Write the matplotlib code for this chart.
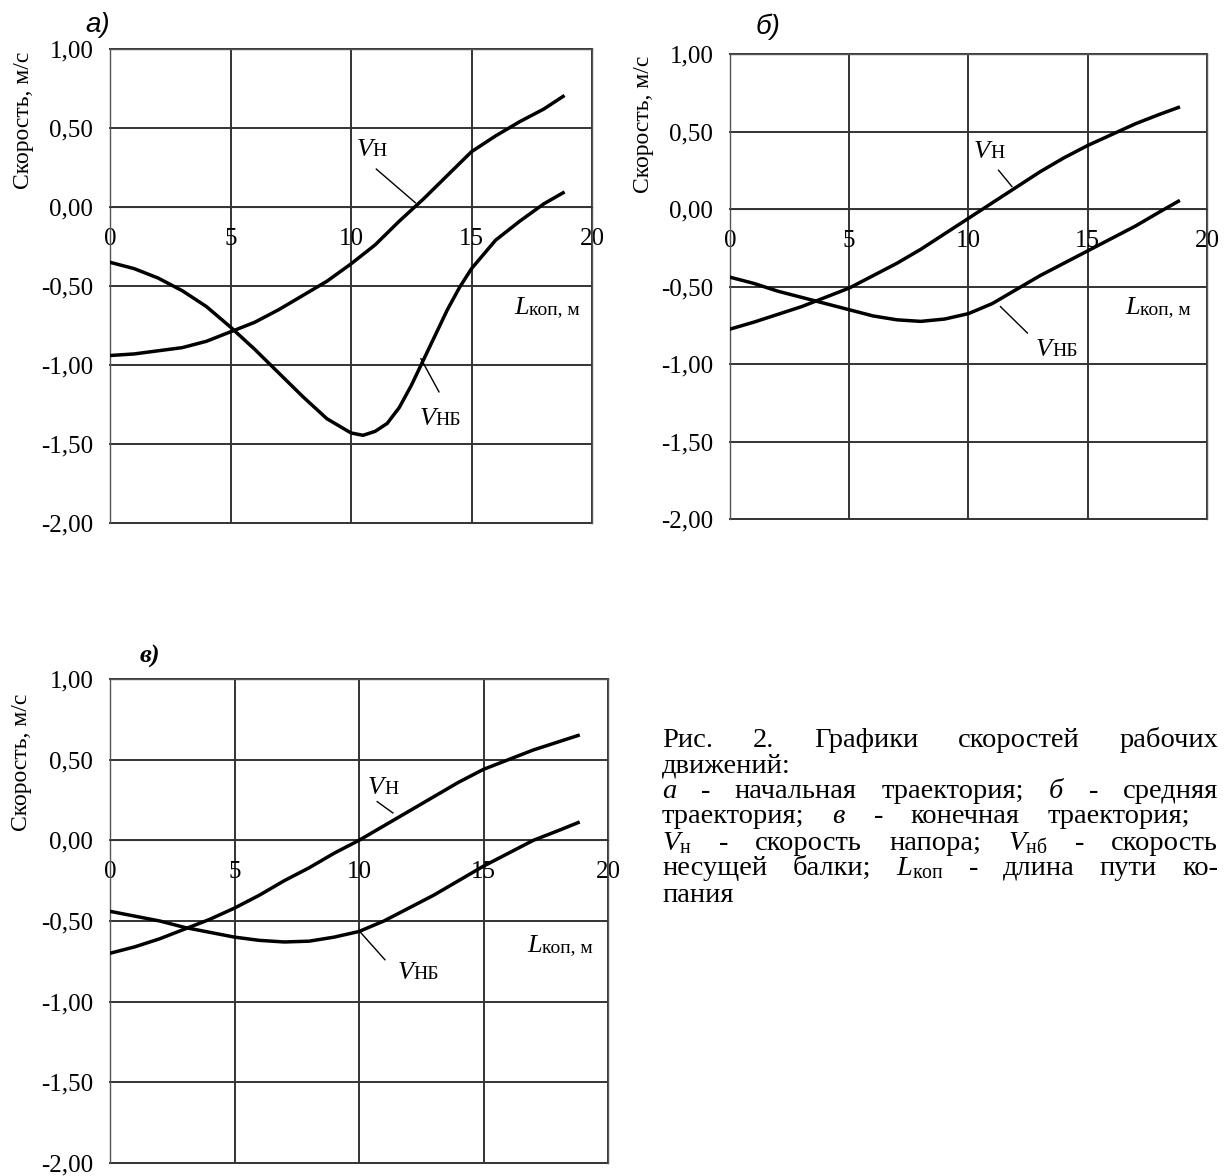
import matplotlib
matplotlib.use('Agg')
import matplotlib.pyplot as plt
from matplotlib.ticker import FuncFormatter, MultipleLocator

# --- data ---
# panel а (начальная траектория)
xa_n = [0, 1, 2, 3, 4, 5, 6, 7, 8, 9, 10, 11, 12, 13, 14, 15, 16, 17, 18, 18.8]
va_n = [-0.94, -0.93, -0.91, -0.89, -0.85, -0.79, -0.73, -0.65, -0.56, -0.47,
        -0.36, -0.24, -0.09, 0.05, 0.20, 0.35, 0.45, 0.54, 0.62, 0.70]
xa_nb = [0, 1, 2, 3, 4, 5, 6, 7, 8, 9, 10, 10.5, 11, 11.5, 12, 12.5, 13, 13.5,
         14, 14.5, 15, 16, 17, 18, 18.8]
va_nb = [-0.35, -0.39, -0.45, -0.53, -0.63, -0.76, -0.90, -1.05, -1.20, -1.34,
         -1.43, -1.445, -1.42, -1.37, -1.27, -1.13, -0.97, -0.81, -0.65, -0.51,
         -0.39, -0.21, -0.09, 0.02, 0.09]

# panel б (средняя траектория)
xb = [0, 1, 2, 3, 4, 5, 6, 7, 8, 9, 10, 11, 12, 13, 14, 15, 16, 17, 18, 18.8]
vb_n = [-0.775, -0.73, -0.68, -0.63, -0.57, -0.51, -0.43, -0.35, -0.26, -0.16,
        -0.06, 0.04, 0.14, 0.24, 0.33, 0.41, 0.48, 0.55, 0.61, 0.655]
vb_nb = [-0.44, -0.48, -0.53, -0.57, -0.61, -0.65, -0.69, -0.715, -0.725, -0.71,
         -0.675, -0.61, -0.52, -0.43, -0.35, -0.27, -0.19, -0.11, -0.02, 0.05]

# panel в (конечная траектория)
xc = [0, 1, 2, 3, 4, 5, 6, 7, 8, 9, 10, 11, 12, 13, 14, 15, 16, 17, 18, 18.8]
vc_n = [-0.70, -0.66, -0.61, -0.55, -0.49, -0.42, -0.34, -0.25, -0.17, -0.08,
        0.0, 0.09, 0.18, 0.27, 0.36, 0.44, 0.50, 0.56, 0.61, 0.65]
vc_nb = [-0.44, -0.47, -0.50, -0.54, -0.57, -0.60, -0.62, -0.63, -0.625, -0.60,
         -0.565, -0.50, -0.42, -0.34, -0.25, -0.16, -0.08, 0.0, 0.06, 0.11]

y_label = 'Скорость, м/с'
# words of each caption line, and the right edge the line is set to (None = not justified)
caption = [
    (['Рис.', '2.', 'Графики', 'скоростей', 'рабочих'], 1218),
    (['движений:'], None),
    ([r'$\mathit{а}$', '-', 'начальная', 'траектория;', r'$\mathit{б}$', '-', 'средняя'], 1218),
    (['траектория;', r'$\mathit{в}$', '-', 'конечная', 'траектория;'], 1190),
    ([r'$V_{\mathrm{н}}$', '-', 'скорость', 'напора;', r'$V_{\mathrm{нб}}$', '-', 'скорость'], 1218),
    (['несущей', 'балки;', r'$L_{\mathrm{коп}}$', '-', 'длина', 'пути', 'ко-'], 1218),
    (['пания'], None),
]

W, H = 1226, 1176
plt.rcParams['font.family'] = ['Liberation Serif', 'DejaVu Serif']
plt.rcParams['mathtext.fontset'] = 'custom'
plt.rcParams['mathtext.rm'] = 'Liberation Serif'
plt.rcParams['mathtext.it'] = 'Liberation Serif:italic'
plt.rcParams['mathtext.bf'] = 'Liberation Serif:bold'

fig = plt.figure(figsize=(W / 100, H / 100), dpi=100)


def fmt(v, pos):
    if abs(v) < 1e-9:
        v = 0.0
    return f'{v:.2f}'.replace('.', ',')


def vlabel(ax, x, y, sub):
    ax.text(x, y, 'V', fontsize=19, style='italic', ha='right', va='baseline')
    ax.text(x, y, sub, fontsize=14, ha='left', va='baseline')


def panel(box, xn, vn, xnb, vnb, lab_n, lead_n, lab_nb, lead_nb, lab_l):
    l, t, r, b = box
    ax = fig.add_axes([l / W, 1 - b / H, (r - l) / W, (b - t) / H])
    ax.plot(xn, vn, color='k', lw=2.5, solid_joinstyle='round', zorder=3)
    ax.plot(xnb, vnb, color='k', lw=2.5, solid_joinstyle='round', zorder=3)
    ax.set_xlim(0, 20)
    ax.set_ylim(-2, 1)
    ax.xaxis.set_major_locator(MultipleLocator(5))
    ax.yaxis.set_major_locator(MultipleLocator(0.5))
    ax.yaxis.set_major_formatter(FuncFormatter(fmt))
    ax.grid(True, color='#333333', lw=1.4)
    ax.set_axisbelow(True)
    for s in ['top', 'left', 'right']:
        ax.spines[s].set_color('#555555')
        ax.spines[s].set_linewidth(1.0)
    ax.spines['bottom'].set_position(('data', 0))
    ax.spines['bottom'].set_color('#333333')
    ax.tick_params(length=0, labelsize=18)
    ax.tick_params(axis='x', pad=15)
    ax.tick_params(axis='y', pad=12)
    for gl in ax.get_ygridlines():
        gl.set_clip_on(False)

    vlabel(ax, lab_n[0], lab_n[1], 'Н')
    ax.plot(lead_n[0], lead_n[1], color='k', lw=1.0)
    vlabel(ax, lab_nb[0], lab_nb[1], 'НБ')
    ax.plot(lead_nb[0], lead_nb[1], color='k', lw=1.0)
    ax.text(lab_l[0], lab_l[1], 'L', fontsize=19, style='italic', ha='right', va='baseline')
    ax.text(lab_l[0], lab_l[1], 'коп, м', fontsize=14, ha='left', va='baseline')
    return ax


panel((110, 49, 592, 523), xa_n, va_n, xa_nb, va_nb,
      (10.9, 0.32), ([11.05, 12.67], [0.24, 0.027]),
      (13.5, -1.38), ([13.65, 12.9], [-1.17, -0.96]),
      (17.4, -0.68))
panel((730, 54, 1207, 519), xb, vb_n, xb, vb_nb,
      (10.9, 0.33), ([11.26, 11.82], [0.25, 0.145]),
      (13.5, -0.95), ([12.47, 11.34], [-0.80, -0.63]),
      (17.2, -0.68))
panel((110, 679, 608, 1163), xc, vc_n, xc, vc_nb,
      (11.0, 0.29), ([10.73, 11.36], [0.24, 0.17]),
      (12.2, -0.86), ([11.04, 10.0], [-0.74, -0.56]),
      (17.35, -0.69))

# y labels
for (x, y) in [(23, 120), (643, 124), (22, 762)]:
    fig.text(x / W, 1 - y / H, y_label, rotation=90, ha='center', va='center', fontsize=17)

# panel letters
fig.text(110 / W, 1 - 32 / H, 'а)', fontsize=20, style='italic', family='Liberation Sans',
         ha='right', va='baseline')
fig.text(780 / W, 1 - 34 / H, 'б)', fontsize=20, style='italic', family='Liberation Sans',
         ha='right', va='baseline')
fig.text(160 / W, 1 - 663 / H, 'в)', fontsize=19, style='italic', weight='bold',
         ha='right', va='baseline')

# caption, justified like in the source text
XL = 662
baselines = [747, 772, 798, 823, 850, 875, 902]
FS = 20.5
renderer = fig.canvas.get_renderer()
probe = fig.text(0, 0, 'a a', fontsize=FS)
probe2 = fig.text(0, 0, 'aa', fontsize=FS)
space_w = probe.get_window_extent(renderer).width - probe2.get_window_extent(renderer).width
probe.remove()
probe2.remove()
for (words, xr), yb in zip(caption, baselines):
    texts = [fig.text(0, 0, w, fontsize=FS, ha='left', va='baseline') for w in words]
    widths = [t.get_window_extent(renderer).width for t in texts]
    if xr is not None and len(words) > 1:
        gap = (xr - XL - sum(widths)) / (len(words) - 1)
    else:
        gap = space_w
    x = XL
    for t, w in zip(texts, widths):
        t.set_position((x / W, 1 - yb / H))
        x += w + gap

fig.savefig('out.png', dpi=100)
